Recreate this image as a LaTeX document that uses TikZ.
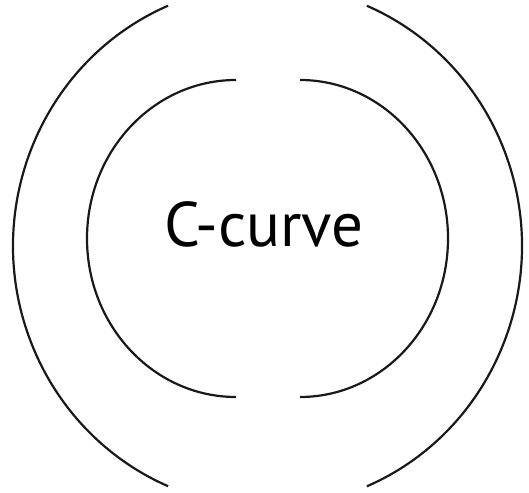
\documentclass[tikz,border=0pt]{standalone}
\usepackage{fontspec}
\setmainfont{PT Sans}
\usetikzlibrary{positioning}
\tikzset{
  crv/.style ={draw=black!90, line width=2.2pt},
  lbl/.style ={font=\fontsize{63}{70}\selectfont, inner sep=0pt, anchor=base},
}
\begin{document}
\begin{tikzpicture}[x=1pt, y=1pt]
  \useasboundingbox (0,0) rectangle (529,492);
  % outer pair
  \coordinate (ol) at (168.1,486.3);
  \coordinate (or) at (366.9,5.7);
  \draw[crv] (ol) arc[start angle=113, end angle=247, x radius=254.5, y radius=261];
  \draw[crv] (or) arc[start angle=-67, end angle=67, x radius=254.5, y radius=261];
  % inner pair
  \coordinate (il) at (236,412);
  \coordinate (ir) at (300,95);
  \draw[crv] (il) arc[start angle=90, end angle=270, x radius=149, y radius=158.5];
  \draw[crv] (ir) arc[start angle=-90, end angle=90, x radius=148, y radius=158.5];
  \node[lbl] (title) at (264,245) {C-curve};
\end{tikzpicture}
\end{document}
